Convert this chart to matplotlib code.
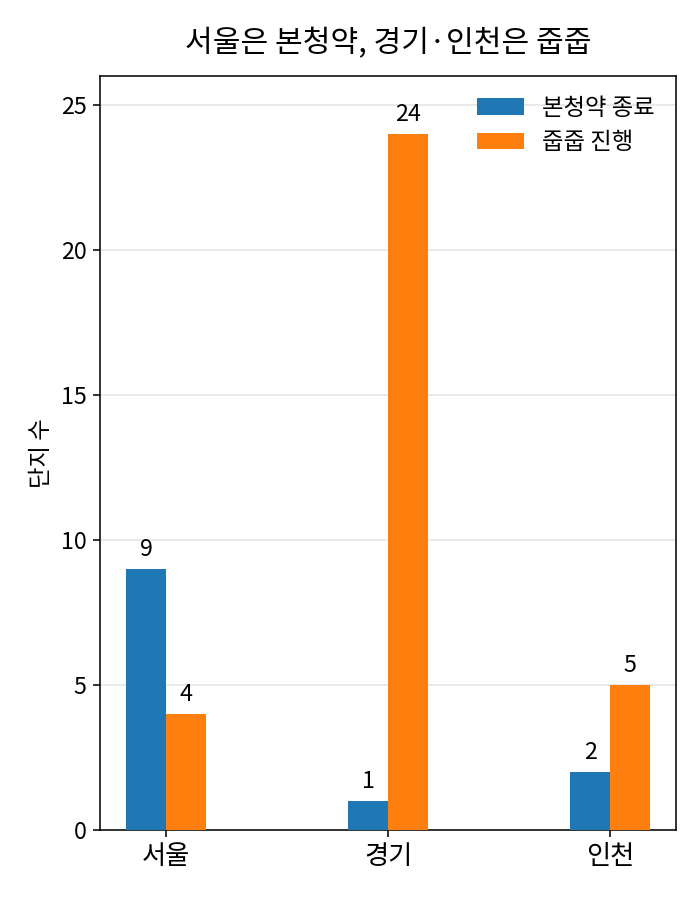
import numpy as np
import matplotlib.pyplot as plt

plt.rcParams['font.family'] = ['Noto Sans CJK KR', 'DejaVu Sans']

regions = ['서울', '경기', '인천']
finished = [9, 1, 2]
ongoing = [4, 24, 5]

x = np.arange(len(regions))
w = 0.18

fig, ax = plt.subplots(figsize=(5, 900 / 140), dpi=140)
b1 = ax.bar(x - w / 2, finished, w, color='#1f77b4', label='본청약 종료', zorder=3)
b2 = ax.bar(x + w / 2, ongoing, w, color='#ff7f0e', label='줍줍 진행', zorder=3)

for bars in (b1, b2):
    for r in bars:
        ax.annotate(str(int(r.get_height())),
                    (r.get_x() + r.get_width() / 2, r.get_height()),
                    xytext=(0, 4), textcoords='offset points',
                    ha='center', va='bottom', fontsize=12)

ax.set_xticks(x)
ax.set_xticklabels(regions, fontsize=13.5)
ax.tick_params(axis='y', labelsize=12)
ax.set_ylim(0, 26)
ax.set_ylabel('단지 수', fontsize=12)
ax.set_title('서울은 본청약, 경기·인천은 줍줍', fontsize=15.5, pad=12)
ax.grid(axis='y', color='#e3e3e3', linewidth=0.8, zorder=0)
ax.legend(frameon=False, fontsize=12, loc='upper right')

fig.subplots_adjust(left=0.143, right=0.966, top=0.916, bottom=0.078)
fig.savefig('out.png')
